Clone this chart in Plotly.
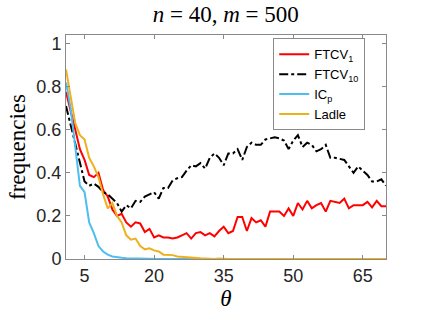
import plotly.graph_objects as go

theta = list(range(1, 71))

ftcv1 = [0.775, 0.68, 0.60, 0.51, 0.46, 0.39, 0.38, 0.40, 0.32, 0.29,
         0.23, 0.20, 0.21, 0.17, 0.15, 0.17, 0.165, 0.125, 0.14, 0.10,
         0.11, 0.10, 0.10, 0.095, 0.10, 0.11, 0.12, 0.095, 0.12, 0.125,
         0.11, 0.12, 0.105, 0.13, 0.15, 0.12, 0.13, 0.195, 0.195, 0.13,
         0.19, 0.17, 0.18, 0.15, 0.22, 0.22, 0.22, 0.20, 0.235, 0.20,
         0.26, 0.23, 0.27, 0.235, 0.25, 0.26, 0.22, 0.27, 0.265, 0.26,
         0.28, 0.235, 0.25, 0.25, 0.25, 0.265, 0.24, 0.27, 0.245, 0.245]

ftcv10 = [0.71, 0.62, 0.53, 0.45, 0.36, 0.34, 0.35, 0.335, 0.31, 0.30,
          0.28, 0.26, 0.22, 0.25, 0.235, 0.27, 0.265, 0.29, 0.30, 0.31,
          0.28, 0.33, 0.33, 0.365, 0.375, 0.38, 0.41, 0.435, 0.43, 0.445,
          0.42, 0.47, 0.49, 0.47, 0.435, 0.49, 0.49, 0.51, 0.46, 0.52,
          0.54, 0.53, 0.53, 0.555, 0.56, 0.565, 0.56, 0.55, 0.51, 0.55,
          0.575, 0.52, 0.54, 0.53, 0.50, 0.51, 0.53, 0.47, 0.47, 0.465,
          0.46, 0.43, 0.40, 0.43, 0.41, 0.39, 0.36, 0.36, 0.37, 0.34]

icp = [0.82, 0.70, 0.52, 0.34, 0.31, 0.17, 0.12, 0.06, 0.035, 0.02,
       0.012, 0.008, 0.006, 0.004, 0.003, 0.002, 0.001, 0, 0, 0,
       0, 0, 0, 0, 0, 0, 0, 0, 0, 0,
       0, 0, 0, 0, 0, 0, 0, 0, 0, 0,
       0, 0, 0, 0, 0, 0, 0, 0, 0, 0,
       0, 0, 0, 0, 0, 0, 0, 0, 0, 0,
       0, 0, 0, 0, 0, 0, 0, 0, 0, 0]

ladle = [0.88, 0.76, 0.63, 0.575, 0.555, 0.47, 0.43, 0.38, 0.30, 0.235,
         0.26, 0.20, 0.17, 0.11, 0.09, 0.095, 0.06, 0.045, 0.05, 0.04,
         0.035, 0.02, 0.018, 0.018, 0.012, 0.01, 0.006, 0.005, 0.004, 0.003,
         0.002, 0, 0, 0.002, 0, 0, 0, 0, 0, 0,
         0, 0, 0, 0, 0, 0, 0, 0.003, 0, 0,
         0, 0, 0, 0, 0.002, 0, 0, 0, 0, 0,
         0, 0, 0, 0, 0, 0, 0, 0, 0, 0]

x_ticks = [5, 20, 35, 50, 65]
y_ticks = [0, 0.2, 0.4, 0.6, 0.8, 1]
y_labels = ["0", "0.2", "0.4", "0.6", "0.8", "1"]

fig = go.Figure()
fig.add_trace(go.Scatter(x=theta, y=ftcv1, mode="lines", name="FTCV<sub>1</sub>",
                         line=dict(color="#ff0000", width=2)))
fig.add_trace(go.Scatter(x=theta, y=ftcv10, mode="lines", name="FTCV<sub>10</sub>",
                         line=dict(color="#000000", width=2, dash="dashdot")))
fig.add_trace(go.Scatter(x=theta, y=icp, mode="lines", name="IC<sub>p</sub>",
                         line=dict(color="#4dbeee", width=2)))
fig.add_trace(go.Scatter(x=theta, y=ladle, mode="lines", name="Ladle",
                         line=dict(color="#edb120", width=2)))

axis_common = dict(showline=True, linecolor="#8a8a8a", linewidth=1, mirror="ticks",
                   ticks="inside", ticklen=4, tickcolor="#8a8a8a", showgrid=False,
                   zeroline=False,
                   tickfont=dict(family="Liberation Sans, Arial", size=18, color="#262626"))

fig.update_layout(
    width=426, height=320,
    margin=dict(l=66, r=40, t=35, b=61),
    paper_bgcolor="white", plot_bgcolor="white",
    title=dict(text="<i>n</i> = 40, <i>m</i> = 500", x=0.53, xanchor="center",
               y=0.955, yanchor="middle",
               font=dict(family="Liberation Serif", size=23, color="#000000")),
    xaxis=dict(range=[1, 70], tickvals=x_ticks,
               title=dict(text="<i>θ</i>", standoff=0,
                          font=dict(family="Liberation Serif", size=23, color="#000000")),
               **axis_common),
    yaxis=dict(range=[0, 1.04], tickvals=y_ticks, ticktext=y_labels,
               title=dict(text="frequencies", standoff=4,
                          font=dict(family="Liberation Serif", size=23, color="#000000")),
               **axis_common),
    legend=dict(x=0.935, y=0.985, xanchor="right", yanchor="top",
                bgcolor="white", bordercolor="#8a8a8a", borderwidth=1,
                font=dict(family="Liberation Sans, Arial", size=13, color="#000000"),
                tracegroupgap=0, itemwidth=30),
    showlegend=True,
    hovermode=False,
)

fig.write_html("out.html", config={"displayModeBar": False},
               post_script="document.body.style.margin='0';")
